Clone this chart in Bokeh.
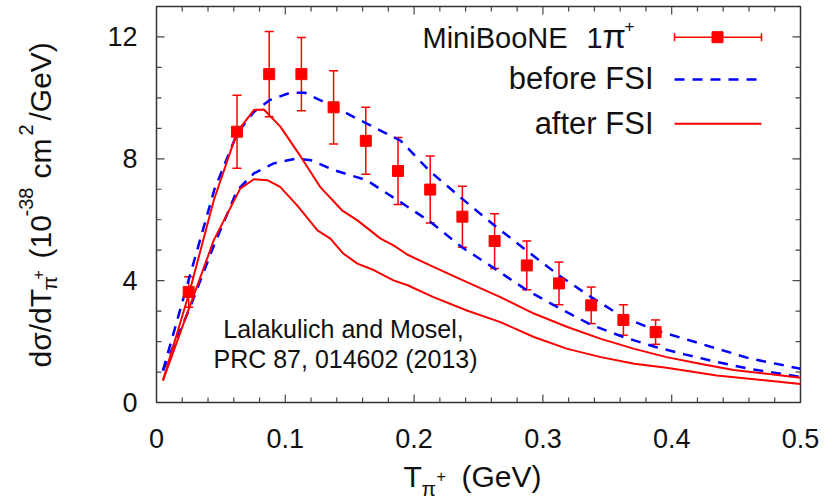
import math
from bokeh.plotting import figure
from bokeh.models import Range1d, Whisker, TeeHead, ColumnDataSource, Label
from bokeh.core.properties import value
from bokeh.embed import file_html
from bokeh.resources import INLINE

# ---------------- data ----------------
data_x = [0.025, 0.0625, 0.0875, 0.1125, 0.1375, 0.1625, 0.1875, 0.2125,
          0.2375, 0.2625, 0.2875, 0.3125, 0.3375, 0.3625, 0.3875]
data_y = [3.63, 8.89, 10.78, 10.78, 9.69, 8.59, 7.60, 6.99,
          6.10, 5.30, 4.50, 3.91, 3.19, 2.71, 2.31]
data_err = [0.5, 1.2, 1.4, 1.2, 1.2, 1.1, 1.1, 1.1,
            1.0, 0.9, 0.8, 0.7, 0.6, 0.5, 0.4]

before_a_x = [0.005, 0.0256, 0.0316, 0.045, 0.0627, 0.0756, 0.088, 0.104, 0.115,
              0.1377, 0.163, 0.1894, 0.212, 0.237, 0.2627, 0.287, 0.3125, 0.3375,
              0.3625, 0.3875, 0.41, 0.435, 0.461, 0.5]
before_a_y = [1.05, 4.12, 5.0, 7.0, 8.84, 9.54, 9.93, 10.17, 10.17,
              9.71, 9.16, 8.6, 7.6, 6.7, 5.8, 5.0, 4.17, 3.46,
              2.8, 2.37, 2.09, 1.77, 1.44, 1.11]

before_b_x = [0.005, 0.0256, 0.045, 0.0627, 0.0756, 0.091, 0.109, 0.12,
              0.1377, 0.163, 0.1894, 0.212, 0.237, 0.2627, 0.287, 0.3125,
              0.3375, 0.3625, 0.3875, 0.41, 0.435, 0.461, 0.5]
before_b_y = [1.05, 3.08, 5.2, 6.97, 7.52, 7.85, 8.01, 7.95,
              7.63, 7.3, 6.58, 5.95, 5.1, 4.39, 3.7, 3.1,
              2.55, 2.15, 1.82, 1.58, 1.33, 1.1, 0.84]

after_a_x = [0.005, 0.0256, 0.0445, 0.0627, 0.0756, 0.0834, 0.0963, 0.112, 0.127,
             0.144, 0.156, 0.174, 0.184, 0.195, 0.215, 0.241, 0.267, 0.293,
             0.319, 0.345, 0.371, 0.396, 0.422, 0.448, 0.474, 0.5]
after_a_y = [0.72, 3.63, 6.64, 8.89, 9.6, 9.62, 9.05, 8.07, 7.08,
             6.31, 5.98, 5.38, 5.16, 4.85, 4.45, 3.95, 3.46, 2.92,
             2.48, 2.09, 1.76, 1.49, 1.27, 1.07, 0.94, 0.81]

after_b_x = [0.005, 0.0256, 0.0445, 0.065, 0.0756, 0.086, 0.096, 0.109, 0.125,
             0.135, 0.145, 0.156, 0.169, 0.184, 0.195, 0.215, 0.241, 0.267,
             0.293, 0.319, 0.345, 0.371, 0.396, 0.435, 0.5]
after_b_y = [0.72, 3.13, 5.33, 7.02, 7.33, 7.3, 7.08, 6.48, 5.65,
             5.38, 4.89, 4.56, 4.34, 4.01, 3.85, 3.46, 3.02, 2.64,
             2.15, 1.76, 1.49, 1.27, 1.14, 0.89, 0.61]

x_ticks = [0, 0.1, 0.2, 0.3, 0.4, 0.5]
x_tick_labels = ["0", "0.1", "0.2", "0.3", "0.4", "0.5"]
x_minor = [0.02, 0.04, 0.06, 0.08, 0.12, 0.14, 0.16, 0.18, 0.22, 0.24, 0.26, 0.28,
           0.32, 0.34, 0.36, 0.38, 0.42, 0.44, 0.46, 0.48]
y_ticks = [0, 4, 8, 12]
y_tick_labels = ["0", "4", "8", "12"]
y_minor = [1, 2, 3, 5, 6, 7, 9, 10, 11]

legend_labels = ["MiniBooNE", "1", "\u03c0", "+", "before FSI", "after FSI"]

# ---------------- layout ----------------
W, H = 833, 501
FL, FR, FT, FB = 156, 800, 6, 402          # plot box in canvas pixels
XMIN, XMAX, YMIN, YMAX = 0.0, 0.5, 0.0, 13.0
FONT = "Liberation Sans"
RED = "#ff0000"
BLUE = "#0000ff"
TICK = "#444444"
TXT = "#111111"
MID = 0.3465      # em-box middle above the baseline, in em

kx = (XMAX - XMIN) / (FR - FL)   # data per pixel
ky = (YMAX - YMIN) / (FB - FT)


def dx(px):
    return XMIN + (px - FL) * kx


def dy(py):
    return YMIN + (FB - py) * ky


# the frame fills the whole canvas so that every text can sit anywhere on it
p = figure(width=W, height=H, x_range=Range1d(dx(0), dx(W)), y_range=Range1d(dy(H), dy(0)),
           output_backend="svg", toolbar_location=None, min_border=0,
           x_axis_location=None, y_axis_location=None)
p.xgrid.visible = False
p.ygrid.visible = False
p.outline_line_color = None
p.background_fill_color = "white"
p.border_fill_color = "white"

# ---------------- axes box, ticks, tick labels ----------------
p.quad(left=[XMIN], right=[XMAX], bottom=[YMIN], top=[YMAX], fill_color=None,
       line_color="#333333", line_width=1.5)

for ticks, ln in ((x_ticks[1:-1], 8), (x_minor, 5)):
    n = len(ticks)
    p.segment(x0=ticks, y0=[YMIN] * n, x1=ticks, y1=[YMIN + ln * ky] * n,
              line_color=TICK, line_width=1.2)
    p.segment(x0=ticks, y0=[YMAX] * n, x1=ticks, y1=[YMAX - ln * ky] * n,
              line_color=TICK, line_width=1.2)
for ticks, ln in ((y_ticks[1:], 8), (y_minor, 5)):
    n = len(ticks)
    p.segment(x0=[XMIN] * n, y0=ticks, x1=[XMIN + ln * kx] * n, y1=ticks,
              line_color=TICK, line_width=1.2)
    p.segment(x0=[XMAX] * n, y0=ticks, x1=[XMAX - ln * kx] * n, y1=ticks,
              line_color=TICK, line_width=1.2)

p.text(x=x_ticks, y=[YMIN - 36 * ky] * len(x_ticks), text=x_tick_labels,
       text_align="center", text_baseline="middle", text_font=value(FONT),
       text_font_size="27px", text_color=TXT)
p.text(x=[XMIN - 19 * kx] * len(y_ticks), y=y_ticks,
       text=y_tick_labels, text_align="right", text_baseline="middle",
       text_font=value(FONT), text_font_size="27px", text_color=TXT)

# ---------------- curves ----------------
p.line(before_a_x, before_a_y, line_color=BLUE, line_width=2.5, line_dash="10 8")
p.line(before_b_x, before_b_y, line_color=BLUE, line_width=2.5, line_dash="10 8")
p.line(after_a_x, after_a_y, line_color=RED, line_width=2)
p.line(after_b_x, after_b_y, line_color=RED, line_width=2)

# ---------------- data with error bars ----------------
src = ColumnDataSource(dict(x=data_x, y=data_y,
                            lo=[v - e for v, e in zip(data_y, data_err)],
                            hi=[v + e for v, e in zip(data_y, data_err)]))
p.add_layout(Whisker(source=src, base="x", lower="lo", upper="hi",
                     line_color=RED, line_width=1.5,
                     upper_head=TeeHead(size=9, line_color=RED, line_width=1.5),
                     lower_head=TeeHead(size=9, line_color=RED, line_width=1.5)))
p.scatter("x", "y", source=src, marker="square", size=11, fill_color=RED,
          line_color=RED)


def lab(xp, yp, txt, size, align="left", angle=0.0):
    """Text whose baseline passes through canvas pixel (xp, yp)."""
    if angle == 0.0:
        cx, cy = xp, yp - MID * size
    else:                       # rotated 90 deg: baseline is a vertical line at xp
        cx, cy = xp - MID * size, yp
    p.add_layout(Label(x=dx(cx), y=dy(cy), text=txt, text_align=align,
                       text_baseline="middle", text_font=FONT,
                       text_font_size=f"{size}px", text_color=TXT, angle=angle))


# ---------------- legend (text left, sample right) ----------------
LX_TEXT = 653
LX0, LX1 = 674, 761
rows_c = [36.7, 79.0, 123.3]
rows_b = [47.3, 88.3, 133.3]

lab(422, rows_b[0], legend_labels[0], 29)
lab(586, rows_b[0], legend_labels[1], 29)
lab(602, rows_b[0], legend_labels[2], 34)
lab(624, 31, legend_labels[3], 17)
lab(LX_TEXT, rows_b[1], legend_labels[4], 31, "right")
lab(LX_TEXT, rows_b[2], legend_labels[5], 31, "right")

p.segment(x0=[dx(LX0)], y0=[dy(rows_c[0])], x1=[dx(LX1)], y1=[dy(rows_c[0])],
          line_color=RED, line_width=1.5)
p.segment(x0=[dx(LX0), dx(LX1)], y0=[dy(rows_c[0] - 4)] * 2,
          x1=[dx(LX0), dx(LX1)], y1=[dy(rows_c[0] + 4)] * 2,
          line_color=RED, line_width=1.5)
p.scatter([dx(717)], [dy(rows_c[0])], marker="square", size=11,
          fill_color=RED, line_color=RED)
p.line([dx(LX0), dx(LX1)], [dy(rows_c[1])] * 2, line_color=BLUE, line_width=2.5,
       line_dash="10 8")
p.line([dx(LX0), dx(LX1)], [dy(rows_c[2])] * 2, line_color=RED, line_width=2)

# ---------------- annotation ----------------
lab(343, 336.7, "Lalakulich and Mosel,", 25, "center")
lab(345, 366.7, "PRC 87, 014602 (2013)", 25, "center")

# ---------------- x title: T_pi+ (GeV) ----------------
lab(403, 486.7, "T", 30)
lab(421, 495, "\u03c0", 21)
lab(436, 481, "+", 16)
lab(461, 486.7, "(GeV)", 30)

# ---------------- y title: dsigma/dT_pi+ (10^-38 cm^2/GeV) ----------------
A = math.pi / 2
lab(50, 367, "d\u03c3/dT", 30, angle=A)
lab(56, 290, "\u03c0", 21, angle=A)
lab(43, 279, "+", 16, angle=A)
lab(50, 258, "(10", 30, angle=A)
lab(32, 216, "-38", 20, angle=A)
lab(50, 178, "cm", 30, angle=A)
lab(32, 135, "2", 20, angle=A)
lab(50, 120, "/GeV)", 30, angle=A)

open("out.html", "w").write(file_html(p, INLINE))
